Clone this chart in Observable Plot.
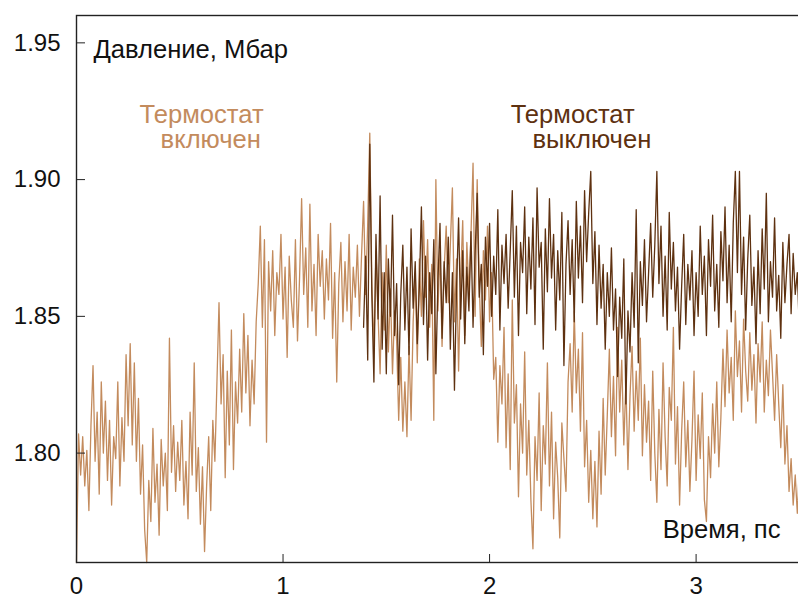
<!DOCTYPE html>
<html><head><meta charset="utf-8">
<script src="https://cdn.jsdelivr.net/npm/d3@7"></script>
<script src="https://cdn.jsdelivr.net/npm/@observablehq/plot@0.6"></script>
<style>body{margin:0;background:#fff} svg{display:block}</style>
</head><body><div id="chart"></div>
<script>
// Time axis (ps): sampling of the two pressure traces
const lightStart = 0.00;
const darkStart = 1.39;
const step = 0.01;

// Pressure, Mbar — thermostat ON (light trace), t = 0.00 … 3.50
const lightValues = [
1.760,1.807,1.792,1.806,1.788,1.801,1.779,1.810,1.832,1.797,
1.815,1.785,1.826,1.800,1.819,1.790,1.812,1.781,1.806,1.798,
1.826,1.788,1.813,1.797,1.836,1.810,1.840,1.803,1.833,1.797,
1.820,1.785,1.803,1.772,1.760,1.790,1.775,1.809,1.782,1.796,
1.770,1.805,1.788,1.800,1.779,1.842,1.793,1.810,1.786,1.804,
1.790,1.812,1.781,1.797,1.776,1.815,1.792,1.833,1.786,1.802,
1.774,1.795,1.764,1.788,1.806,1.779,1.812,1.797,1.826,1.855,
1.818,1.836,1.791,1.830,1.803,1.845,1.794,1.826,1.811,1.838,
1.815,1.851,1.822,1.843,1.810,1.834,1.818,1.848,1.862,1.883,
1.846,1.878,1.804,1.870,1.852,1.874,1.843,1.866,1.858,1.880,
1.849,1.868,1.835,1.872,1.856,1.846,1.878,1.841,1.864,1.893,
1.858,1.875,1.846,1.891,1.852,1.869,1.843,1.880,1.861,1.874,
1.849,1.871,1.856,1.884,1.842,1.866,1.826,1.862,1.877,1.848,
1.870,1.852,1.880,1.845,1.868,1.857,1.876,1.850,1.872,1.892,
1.858,1.884,1.917,1.862,1.838,1.874,1.851,1.829,1.866,1.845,
1.876,1.837,1.860,1.829,1.852,1.841,1.812,1.835,1.808,1.826,
1.806,1.839,1.812,1.848,1.866,1.833,1.871,1.850,1.885,1.857,
1.878,1.846,1.869,1.812,1.900,1.852,1.874,1.839,1.867,1.883,
1.855,1.876,1.897,1.848,1.871,1.830,1.864,1.885,1.843,1.877,
1.858,1.880,1.906,1.850,1.900,1.862,1.839,1.874,1.856,1.883,
1.848,1.866,1.827,1.835,1.804,1.832,1.818,1.846,1.802,1.829,
1.794,1.856,1.811,1.825,1.784,1.818,1.800,1.837,1.792,1.812,
1.783,1.765,1.806,1.790,1.822,1.779,1.810,1.796,1.833,1.788,
1.815,1.776,1.804,1.791,1.769,1.811,1.798,1.786,1.826,1.840,
1.815,1.852,1.822,1.838,1.808,1.844,1.795,1.812,1.782,1.801,
1.776,1.797,1.773,1.808,1.785,1.820,1.792,1.814,1.838,1.806,
1.828,1.799,1.846,1.815,1.834,1.803,1.826,1.794,1.821,1.839,
1.808,1.830,1.812,1.842,1.799,1.825,1.804,1.819,1.790,1.830,
1.800,1.782,1.816,1.794,1.833,1.806,1.788,1.824,1.812,1.846,
1.796,1.817,1.781,1.808,1.826,1.795,1.812,1.786,1.805,1.830,
1.790,1.814,1.798,1.822,1.783,1.775,1.806,1.791,1.818,1.800,
1.826,1.795,1.813,1.838,1.817,1.845,1.822,1.835,1.812,1.852,
1.828,1.841,1.815,1.849,1.830,1.819,1.844,1.823,1.836,1.811,
1.840,1.826,1.848,1.815,1.834,1.821,1.845,1.829,1.812,1.836,
1.818,1.802,1.825,1.796,1.810,1.786,1.798,1.781,1.792,1.778,
1.795
];

// Pressure, Mbar — thermostat OFF (dark trace), t = 1.39 … 3.50
const darkValues = [
1.846,
1.872,1.834,1.913,1.858,1.826,1.880,1.849,1.894,1.838,1.866,
1.829,1.871,1.850,1.887,1.843,1.862,1.825,1.858,1.876,1.845,
1.868,1.836,1.882,1.853,1.870,1.840,1.861,1.890,1.847,1.872,
1.834,1.866,1.851,1.878,1.829,1.863,1.884,1.842,1.870,1.855,
1.879,1.838,1.866,1.823,1.860,1.886,1.849,1.874,1.840,1.868,
1.852,1.881,1.846,1.873,1.895,1.857,1.869,1.836,1.879,1.861,
1.884,1.850,1.872,1.858,1.889,1.845,1.876,1.862,1.880,1.853,
1.874,1.896,1.857,1.883,1.843,1.877,1.866,1.890,1.851,1.879,
1.860,1.886,1.847,1.897,1.868,1.877,1.838,1.882,1.859,1.893,
1.864,1.880,1.845,1.874,1.856,1.888,1.832,1.869,1.885,1.858,
1.878,1.848,1.892,1.864,1.883,1.855,1.896,1.870,1.888,1.903,
1.862,1.881,1.847,1.876,1.853,1.869,1.838,1.866,1.850,1.875,
1.845,1.860,1.828,1.857,1.842,1.871,1.818,1.852,1.837,1.866,
1.846,1.889,1.833,1.870,1.854,1.878,1.848,1.866,1.884,1.857,
1.876,1.903,1.862,1.883,1.850,1.872,1.845,1.888,1.860,1.877,
1.852,1.868,1.838,1.861,1.880,1.847,1.869,1.856,1.874,1.843,
1.866,1.850,1.883,1.858,1.872,1.843,1.878,1.861,1.887,1.852,
1.869,1.846,1.881,1.863,1.890,1.855,1.876,1.848,1.884,1.903,
1.866,1.903,1.858,1.879,1.845,1.871,1.887,1.854,1.868,1.840,
1.874,1.851,1.882,1.860,1.895,1.848,1.870,1.857,1.886,1.852,
1.865,1.842,1.877,1.855,1.869,1.880,1.851,1.873,1.858,1.866,
1.845
];

const xTicks = [0, 1, 2, 3];
const yTicks = [1.80, 1.85, 1.90, 1.95];
const xDomain = [0, 3.52];
const yDomain = [1.76, 1.96];

const lightColor = "#c38b5d";
const darkColor = "#5e3110";

// annotation texts (data coordinates)
const annotations = [
  {t: 0.082, p: 1.9475, text: "Давление, Мбар", c: "#111"},
  {t: 0.305, p: 1.9238, text: "Термостат", c: lightColor},
  {t: 0.407, p: 1.9146, text: "включен", c: lightColor},
  {t: 2.102, p: 1.9238, text: "Термостат", c: darkColor},
  {t: 2.208, p: 1.9146, text: "выключен", c: darkColor},
  {t: 2.838, p: 1.7718, text: "Время, пс", c: "#111"}
];

const light = lightValues.map((v, i) => ({t: lightStart + i * step, p: v}));
const dark = darkValues.map((v, i) => ({t: darkStart + i * step, p: v}));

const chart = Plot.plot({
  width: 798,
  height: 599,
  marginLeft: 76,
  marginRight: -5,
  marginTop: 15,
  marginBottom: 37,
  style: {fontFamily: "'Liberation Sans', Arial, Helvetica, sans-serif", fontSize: "24px", background: "#fff", color: "#111"},
  x: {domain: xDomain},
  y: {domain: yDomain},
  marks: [
    Plot.line(light, {x: "t", y: "p", stroke: lightColor, strokeWidth: 1.3}),
    Plot.line(dark, {x: "t", y: "p", stroke: darkColor, strokeWidth: 1.3}),
    Plot.frame({stroke: "#222", strokeWidth: 1.4}),
    Plot.axisX(xTicks, {tickSize: -8, tickPadding: 22, tickFormat: d => String(d), fontSize: 24, label: null, stroke: "#222"}),
    Plot.axisY(yTicks, {tickSize: -9, tickPadding: 25, tickFormat: d => d.toFixed(2), fontSize: 24, label: null, stroke: "#222"}),
    Plot.text(annotations, {x: "t", y: "p", text: "text", fill: "c", textAnchor: "start", fontSize: 25.6})
  ]
});
document.getElementById("chart").appendChild(chart);
</script>
</body></html>
